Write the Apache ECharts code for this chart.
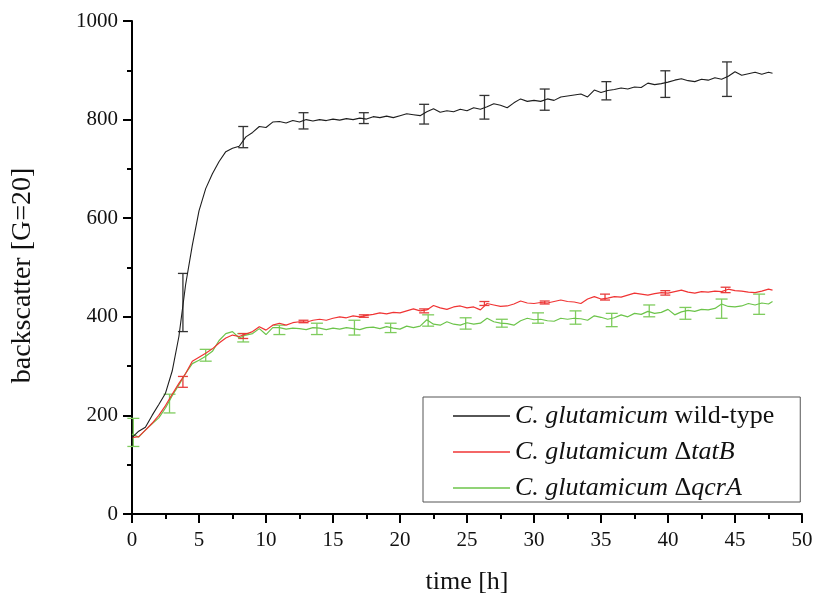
<!DOCTYPE html>
<html lang="en">
  <head>
    <meta charset="utf-8" />
    <title>backscatter</title>
    <style>
      html,
      body,
      #container {
        margin: 0;
        height: 100%;
        width: 100%;
        background: #fff;
      }
    </style>
  </head>

  <body>
    <div id="container"></div>
    <script src="https://cdn.jsdelivr.net/npm/echarts@6/dist/echarts.min.js"></script>
    <script>
      // time axis (h)
      let hours = [
        0, 0.5, 1, 1.5, 2, 2.5, 3, 3.5, 4, 4.5,
        5, 5.5, 6, 6.5, 7, 7.5, 8, 8.5, 9, 9.5,
        10, 10.5, 11, 11.5, 12, 12.5, 13, 13.5, 14, 14.5,
        15, 15.5, 16, 16.5, 17, 17.5, 18, 18.5, 19, 19.5,
        20, 20.5, 21, 21.5, 22, 22.5, 23, 23.5, 24, 24.5,
        25, 25.5, 26, 26.5, 27, 27.5, 28, 28.5, 29, 29.5,
        30, 30.5, 31, 31.5, 32, 32.5, 33, 33.5, 34, 34.5,
        35, 35.5, 36, 36.5, 37, 37.5, 38, 38.5, 39, 39.5,
        40, 40.5, 41, 41.5, 42, 42.5, 43, 43.5, 44, 44.5,
        45, 45.5, 46, 46.5, 47, 47.5, 47.8
      ]
      // wild-type
      let wildType = [
        155, 168, 176, 200, 222, 245, 290, 360, 465, 545,
        615, 660, 690, 715, 735, 742, 746, 765, 774, 786,
        784, 795, 796, 793, 798, 795, 800, 797, 800, 798,
        801, 799, 802, 800, 803, 801, 806, 804, 807, 804,
        808, 812, 810, 808, 816, 822, 815, 818, 816, 821,
        818, 824, 821, 826, 832, 829, 824, 834, 842, 837,
        839, 837, 842, 839, 846, 848, 850, 852, 846, 860,
        855, 859, 861, 864, 862, 866, 865, 874, 871, 873,
        876, 880, 883, 879, 877, 882, 880, 885, 882, 888,
        897, 890, 893, 896, 892, 896, 894
      ]
      // delta tatB
      let tatB = [
        155, 157, 170, 184, 200, 220, 243, 265, 285, 310,
        318, 326, 335, 347, 357, 363, 360, 365, 370, 380,
        373, 383, 387, 383, 388, 390, 389, 393, 395, 393,
        397, 400, 398, 402, 400, 403, 405, 408, 406, 409,
        408, 412, 416, 412, 414, 423, 418, 415, 420, 422,
        418, 420, 414, 427, 424, 421, 422, 426, 432, 428,
        427, 429, 428, 431, 434, 431, 430, 427, 436, 441,
        436, 438, 441, 440, 444, 448, 446, 444, 447, 449,
        448, 451, 454, 450, 448, 451, 450, 452, 451, 456,
        453, 452, 450, 449, 452, 456, 454
      ]
      // delta qcrA
      let qcrA = [
        162, 156, 170, 183, 195, 215, 240, 262, 285, 305,
        312, 320, 330, 352, 366, 370, 357, 363, 366, 376,
        364, 378, 378, 375, 377, 376, 374, 378, 377, 374,
        377, 375, 378, 376, 374, 378, 379, 376, 380, 377,
        375, 381, 378, 381, 394, 385, 383, 390, 385, 383,
        388, 385, 387, 397, 390, 387, 386, 383, 392, 397,
        394, 395, 392, 391, 397, 395, 397, 396, 393, 402,
        399, 395, 398, 404, 400, 407, 405, 411, 407, 409,
        415, 404, 410, 413, 411, 415, 414, 417, 426, 421,
        420, 422, 427, 424, 428, 426, 431
      ]

      // error bars
      let wtBarHours = [3.8, 8.3, 12.8, 17.3, 21.8, 26.3, 30.8, 35.4, 39.8, 44.4]
      let wtBarLow = [370, 743, 781, 792, 791, 801, 819, 840, 845, 847]
      let wtBarHigh = [488, 786, 814, 814, 831, 849, 862, 877, 899, 917]

      let tatBarHours = [3.8, 8.3, 12.8, 17.3, 21.8, 26.3, 30.8, 35.3, 39.8, 44.3]
      let tatBarLow = [257, 356, 388, 399, 408, 423, 426, 434, 444, 449]
      let tatBarHigh = [279, 366, 393, 404, 416, 431, 432, 446, 453, 460]

      let qcrBarHours = [0.1, 2.8, 5.5, 8.3, 11.0, 13.8, 16.6, 19.3, 22.1, 24.9, 27.6, 30.3, 33.1, 35.8, 38.6, 41.3, 44.0, 46.8]
      let qcrBarLow = [137, 205, 310, 349, 364, 364, 363, 368, 381, 375, 379, 387, 385, 380, 400, 395, 397, 405]
      let qcrBarHigh = [194, 243, 334, 366, 383, 387, 393, 387, 404, 398, 395, 408, 412, 407, 424, 419, 436, 446]

      let serif = 'Liberation Serif'

      function pairs(xs, ys) {
        return xs.map(function (x, i) {
          return [x, ys[i]]
        })
      }
      function bars(xs, lo, hi) {
        return xs.map(function (x, i) {
          return [x, lo[i], hi[i]]
        })
      }
      // draws an I-shaped error bar
      function errorBar(cap) {
        return function (params, api) {
          let x = api.value(0)
          let lo = api.coord([x, api.value(1)])
          let hi = api.coord([x, api.value(2)])
          let style = { stroke: api.visual('color'), lineWidth: 1.3 }
          return {
            type: 'group',
            children: [
              { type: 'line', shape: { x1: lo[0], y1: lo[1], x2: hi[0], y2: hi[1] }, style: style },
              { type: 'line', shape: { x1: lo[0] - cap, y1: lo[1], x2: lo[0] + cap, y2: lo[1] }, style: style },
              { type: 'line', shape: { x1: hi[0] - cap, y1: hi[1], x2: hi[0] + cap, y2: hi[1] }, style: style },
            ],
          }
        }
      }

      let legendText = {
        wt: '{i|C. glutamicum} wild-type',
        tatB: '{i|C. glutamicum} \u0394{i|tatB}',
        qcrA: '{i|C. glutamicum} \u0394{i|qcrA}',
      }

      let chart = echarts.init(document.getElementById('container'))
      let option = {
        animation: false,
        backgroundColor: '#fff',
        grid: { left: 132, right: 13, top: 21, bottom: 82, outerBoundsMode: 'none' },
        legend: {
          data: ['wt', 'tatB', 'qcrA'],
          orient: 'vertical',
          left: 423,
          top: 397,
          padding: [5, 26, 0, 30],
          borderColor: '#555',
          borderWidth: 1,
          icon: 'rect',
          itemWidth: 57,
          itemHeight: 1.3,
          itemGap: 8,
          formatter: function (name) {
            return legendText[name]
          },
          textStyle: {
            fontFamily: serif,
            fontSize: 26,
            lineHeight: 28,
            color: '#111',
            rich: {
              i: { fontFamily: serif, fontSize: 26, lineHeight: 28, fontStyle: 'italic', color: '#111' },
            },
          },
        },
        xAxis: {
          type: 'value',
          min: 0,
          max: 50,
          interval: 5,
          name: 'time [h]',
          nameLocation: 'middle',
          nameGap: 55,
          nameTextStyle: { fontFamily: serif, fontSize: 26, color: '#111' },
          axisLine: { lineStyle: { color: '#000', width: 2 } },
          axisTick: { length: 9, lineStyle: { color: '#000', width: 2 } },
          minorTick: { show: true, splitNumber: 2, length: 5, lineStyle: { color: '#000', width: 2 } },
          splitLine: { show: false },
          axisLabel: { fontFamily: serif, fontSize: 21, color: '#111', margin: 16 },
        },
        yAxis: {
          type: 'value',
          min: 0,
          max: 1000,
          interval: 200,
          name: 'backscatter [G=20]',
          nameLocation: 'middle',
          nameGap: 95,
          nameTextStyle: { fontFamily: serif, fontSize: 28, color: '#111', padding: [0, 16, 0, 0] },
          axisLine: { show: true, lineStyle: { color: '#000', width: 2 } },
          axisTick: { show: true, length: 9, lineStyle: { color: '#000', width: 2 } },
          minorTick: { show: true, splitNumber: 2, length: 5, lineStyle: { color: '#000', width: 2 } },
          splitLine: { show: false },
          axisLabel: {
            fontFamily: serif,
            fontSize: 21,
            color: '#111',
            margin: 14,
            formatter: function (v) {
              return String(v)
            },
          },
        },
        series: [
          {
            name: 'qcrA',
            type: 'line',
            data: pairs(hours, qcrA),
            symbol: 'none',
            color: '#6cc44a',
            lineStyle: { width: 1.2 },
          },
          {
            name: 'tatB',
            type: 'line',
            data: pairs(hours, tatB),
            symbol: 'none',
            color: '#f03434',
            lineStyle: { width: 1.2 },
          },
          {
            name: 'wt',
            type: 'line',
            data: pairs(hours, wildType),
            symbol: 'none',
            color: '#1e1e1e',
            lineStyle: { width: 1.1 },
          },
          {
            type: 'custom',
            renderItem: errorBar(6),
            data: bars(qcrBarHours, qcrBarLow, qcrBarHigh),
            encode: { x: 0, y: [1, 2] },
            itemStyle: { color: '#7fcc5e' },
            z: 3,
          },
          {
            type: 'custom',
            renderItem: errorBar(5),
            data: bars(tatBarHours, tatBarLow, tatBarHigh),
            encode: { x: 0, y: [1, 2] },
            itemStyle: { color: '#e83c3c' },
            z: 3,
          },
          {
            type: 'custom',
            renderItem: errorBar(5),
            data: bars(wtBarHours, wtBarLow, wtBarHigh),
            encode: { x: 0, y: [1, 2] },
            itemStyle: { color: '#333' },
            z: 3,
          },
        ],
      }
      chart.setOption(option)
    </script>
  </body>
</html>
